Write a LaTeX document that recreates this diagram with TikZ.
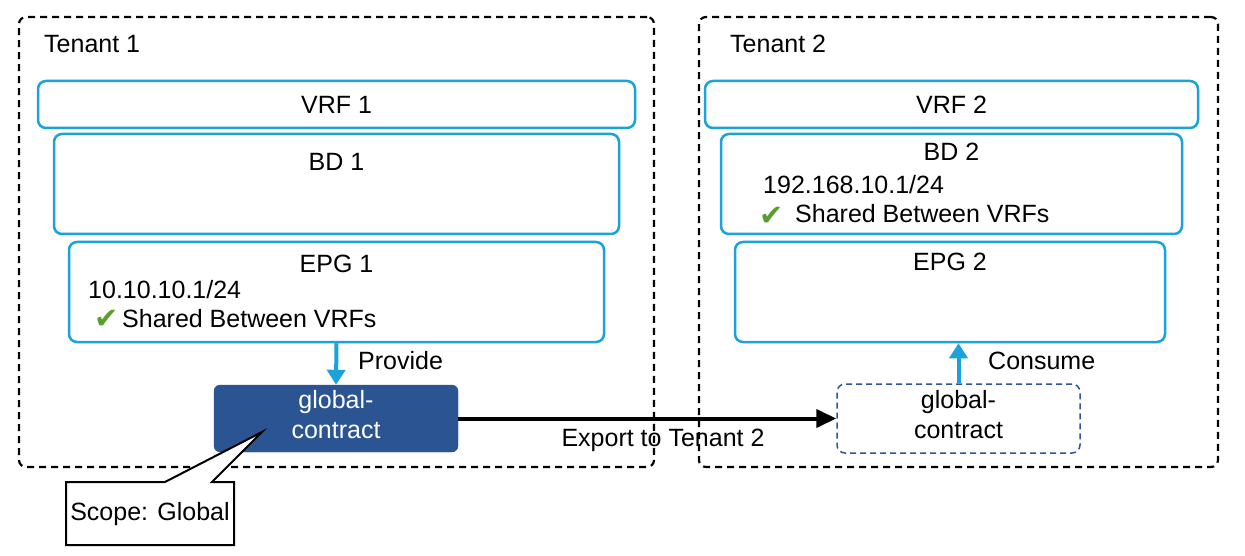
\documentclass[tikz,border=0pt]{standalone}
\usepackage{fontspec}
\setmainfont{Liberation Sans}
\newfontfamily\symfont{DejaVu Sans}
\usetikzlibrary{arrows.meta}
\definecolor{cyanb}{HTML}{1BA1DC}
\definecolor{darkb}{HTML}{2B5592}
\definecolor{dashb}{HTML}{2F5597}
\definecolor{chk}{HTML}{5A9E2E}
\tikzset{
  tenant/.style={draw=black, line width=2.2pt, dash pattern=on 7pt off 5pt, rounded corners=7pt},
  bluebox/.style={draw=cyanb, line width=2.5pt, rounded corners=8pt, fill=white, inner sep=0pt},
  lbl/.style={inner sep=0pt, font=\fontsize{25}{29}\selectfont},
  wlbl/.style={lbl, text=white},
  chkmark/.style={inner sep=0pt, text=chk, font=\symfont\fontsize{29}{30}\selectfont},
  contract/.style={fill=darkb, draw=darkb, rounded corners=6pt, inner sep=0pt},
  contract2/.style={draw=dashb, line width=1.5pt, dash pattern=on 6pt off 4pt, rounded corners=8pt, inner sep=0pt},
  bluearrow/.style={draw=cyanb, line width=4pt, -{Triangle[width=18pt,length=15pt]}},
  blackarrow/.style={draw=black, line width=4pt, -{Triangle[width=18pt,length=20pt]}},
}
\begin{document}
\begin{tikzpicture}[x=1pt,y=-1pt]
\useasboundingbox (0,0) rectangle (1245,556);
\fill[white] (0,0) rectangle (1245,556);
% Tenant boxes
\node[tenant, minimum width=635pt, minimum height=450pt, inner sep=0pt] (t1) at (336.5,242) {};
\node[tenant, minimum width=519pt, minimum height=450pt, inner sep=0pt] (t2) at (958.5,242) {};
\node[lbl, anchor=west] (t1l) at (44,44) {Tenant 1};
\node[lbl, anchor=west] (t2l) at (730,44) {Tenant 2};
% Tenant 1
\node[bluebox, minimum width=597pt, minimum height=47pt] (vrf1) at (336.5,104.5) {};
\node[lbl] (vrf1l) at (336.5,105) {VRF 1};
\node[bluebox, minimum width=565pt, minimum height=100pt] (bd1) at (336.5,184) {};
\node[lbl] (bd1l) at (336.5,162) {BD 1};
\node[bluebox, minimum width=535pt, minimum height=100pt] (epg1) at (336.5,292) {};
\node[lbl] (epg1l) at (336.5,264) {EPG 1};
\node[lbl, anchor=west] (ip1) at (88,290) {10.10.10.1/24};
\node[chkmark] (ck1) at (107,319) {✔};
\node[lbl, anchor=west] (sh1) at (122,319) {Shared Between VRFs};
\node[contract, minimum width=244pt, minimum height=67pt] (c1) at (336,418.5) {};
\node[wlbl] (c1a) at (336,402) {global-};
\node[wlbl] (c1b) at (336,431) {contract};
\draw[bluearrow] (epg1.south) -- (c1.north);
\node[lbl, anchor=west] (prov) at (358,361) {Provide};
% Tenant 2
\node[bluebox, minimum width=493pt, minimum height=47pt] (vrf2) at (951.5,104.5) {};
\node[lbl] (vrf2l) at (951.5,105) {VRF 2};
\node[bluebox, minimum width=461pt, minimum height=100pt] (bd2) at (951.5,184) {};
\node[lbl] (bd2l) at (951.5,152) {BD 2};
\node[lbl, anchor=west] (ip2) at (763,185) {192.168.10.1/24};
\node[chkmark] (ck2) at (772,216) {✔};
\node[lbl, anchor=west] (sh2) at (795,214) {Shared Between VRFs};
\node[bluebox, minimum width=430pt, minimum height=100pt] (epg2) at (950,292) {};
\node[lbl] (epg2l) at (950,262) {EPG 2};
\node[contract2, minimum width=243pt, minimum height=69pt] (c2) at (958.5,418.5) {};
\node[lbl] (c2a) at (958.5,402) {global-};
\node[lbl] (c2b) at (958.5,431) {contract};
\draw[bluearrow] (c2.north) -- (c2.north |- epg2.south);
\node[lbl, anchor=west] (cons) at (988,361) {Consume};
% Export
\draw[blackarrow] (c1.east) -- (c2.west);
\node[lbl] (exp) at (663,440) {Export to Tenant 2};
% Callout
\draw[line width=2pt, fill=white] (66,482) -- (165,482) -- (262,432) -- (212,482) -- (234,482) -- (234,545) -- (66,545) -- cycle;
\node[lbl] (scope) at (150,514) {Scope: Global};
\end{tikzpicture}
\end{document}
